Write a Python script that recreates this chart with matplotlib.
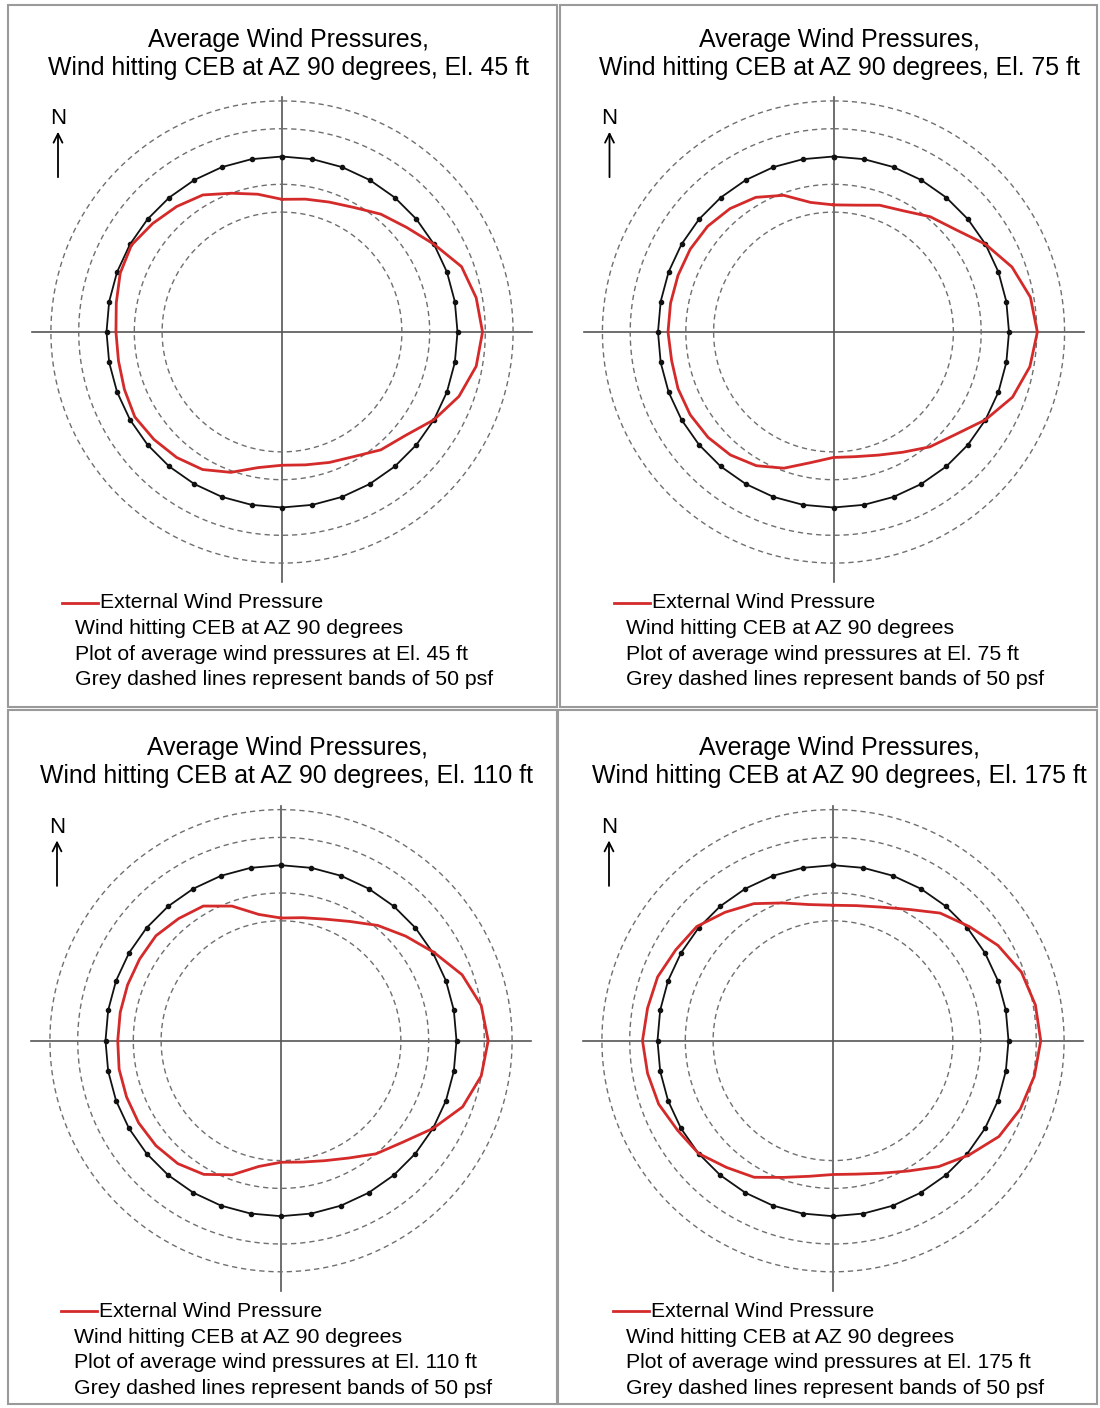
import numpy as np
import matplotlib.pyplot as plt
from matplotlib.patches import Rectangle

plt.rcParams['font.family'] = ['Liberation Sans', 'DejaVu Sans']

# azimuth of each reading, degrees clockwise from north
azimuth = np.arange(0, 360, 10)

# average external wind pressure (psf) at each azimuth, one list per elevation
pressure_45 = [-77, -73, -67, -57, -39, -23, 0, 28, 39, 45, 39, 23,
               0, -26, -39, -57, -66, -73, -76, -68, -47, -30, -21, -15,
               -10, -14, -17, -17, -13, -6, -3, -12, -21, -31, -50, -64]
pressure_75 = [-87, -84, -73, -64, -45, -29, 0, 26, 44, 51, 43, 27,
               0, -29, -46, -66, -80, -88, -90, -77, -55, -38, -27, -21,
               -18, -18, -20, -18, -18, -18, -18, -20, -26, -36, -54, -79]
pressure_110 = [-95, -91, -83, -68, -45, -23, 2, 31, 50, 57, 50, 32,
                0, -31, -50, -72, -86, -94, -97, -86, -59, -38, -27, -22,
                -20, -20, -20, -22, -22, -22, -22, -22, -29, -36, -58, -85]
pressure_175 = [-72, -69, -60, -43, -16, 4, 27, 45, 54, 58, 52, 43,
                29, 4, -20, -45, -62, -72, -75, -68, -54, -32, -18, 0,
                7, 18, 23, 27, 23, 20, 11, 4, -14, -31, -52, -67]

elevations = [45, 75, 110, 175]
pressures = [pressure_45, pressure_75, pressure_110, pressure_175]
band_levels = [-100, -50, 50, 100]

W, H = 1100, 1408
R0 = 175.5      # radius of zero pressure ring (px)
BAND = 27.8     # px per 50 psf
RED = '#d42a2a'
centers = [(282, 332), (833.5, 332), (281, 1040.7), (833, 1040.7)]
frames = [(8, 5, 557, 707), (560, 5, 1097, 707), (8, 710, 557, 1404), (558, 710, 1097, 1404)]

fig = plt.figure(figsize=(W / 100, H / 100), dpi=100)
fig.patch.set_facecolor('white')

ov = fig.add_axes([0, 0, 1, 1])
ov.set_xlim(0, W)
ov.set_ylim(H, 0)
ov.axis('off')

for x0, y0, x1, y1 in frames:
    ov.add_patch(Rectangle((x0, y0), x1 - x0, y1 - y0, fill=False,
                           edgecolor='#9a9a9a', lw=1.5))


def to_xy(p, az):
    r = R0 + np.asarray(p, dtype=float) * BAND / 50.0
    a = np.radians(az)
    return r * np.sin(a), r * np.cos(a)


half = 262
theta = np.linspace(0, 360, 361)
for (cx, cy), elev, pres in zip(centers, elevations, pressures):
    ax = fig.add_axes([(cx - half) / W, 1 - (cy + half) / H, 2 * half / W, 2 * half / H])
    ax.set_xlim(-half, half)
    ax.set_ylim(-half, half)
    ax.axis('off')

    # cross hairs
    ax.plot([-250, 250], [0, 0], color='#555555', lw=1.2)
    ax.plot([0, 0], [-250, 235], color='#555555', lw=1.2)

    # 50 psf bands
    for lev in band_levels:
        bx, by = to_xy(np.full(theta.size, lev), theta)
        ax.plot(bx, by, color='#6f6f6f', lw=1.0, ls=(0, (3.8, 2.8)))

    # zero pressure ring
    zx, zy = to_xy(np.zeros(azimuth.size + 1), np.append(azimuth, 360))
    ax.plot(zx, zy, color='#111111', lw=1.3, marker='o', ms=3.0)

    # external wind pressure
    px, py = to_xy(pres + pres[:1], np.append(azimuth, 360))
    ax.plot(px, py, color=RED, lw=2.0)

    # titles
    ov.text(cx + 6, cy - 285.5, 'Average Wind Pressures,', ha='center', va='baseline', fontsize=17.9)
    ov.text(cx + 6, cy - 257.5, f'Wind hitting CEB at AZ 90 degrees, El. {elev} ft',
            ha='center', va='baseline', fontsize=17.9)

    # north arrow
    ov.text(cx - 224, cy - 208, 'N', ha='center', va='baseline', fontsize=16)
    ov.annotate('', xy=(cx - 224, cy - 203), xytext=(cx - 224, cy - 152),
                arrowprops=dict(arrowstyle='->', lw=1.3, color='black', mutation_scale=16))

    # legend block
    ov.plot([cx - 220, cx - 184], [cy + 270.5, cy + 270.5], color=RED, lw=2.0)
    ov.text(cx - 182, cy + 276, 'External Wind Pressure', ha='left', va='baseline', fontsize=15.3)
    lines = ['Wind hitting CEB at AZ 90 degrees',
             f'Plot of average wind pressures at El. {elev} ft',
             'Grey dashed lines represent bands of 50 psf']
    for k, s in enumerate(lines):
        ov.text(cx - 207, cy + 302.5 + 25.3 * k, s, ha='left', va='baseline', fontsize=15.3)

fig.savefig('out.png', dpi=100)
